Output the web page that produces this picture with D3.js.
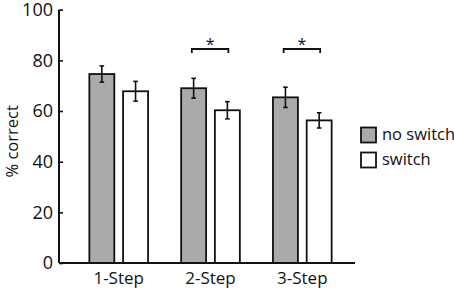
<!DOCTYPE html>
<html>
<head>
<meta charset="utf-8">
<script src="https://cdn.jsdelivr.net/npm/d3@7"></script>
<style>
  html, body { margin: 0; padding: 0; background: #fff; }
  svg { display: block; }
  text { font-family: "Open Sans", "Liberation Sans", sans-serif; fill: #111; }
</style>
</head>
<body>
<svg id="chart" width="454" height="292"></svg>
<script>
const categories = ["1-Step", "2-Step", "3-Step"];
const seriesNames = ["no switch", "switch"];
const noSwitch = [74.6, 69.0, 65.4];
const switchVals = [67.8, 60.3, 56.3];
const noSwitchErr = [3.2, 3.9, 4.0];
const switchErr = [3.9, 3.4, 3.0];
const significant = [false, true, true];
const yTicks = [0, 20, 40, 60, 80, 100];
const yLabel = "% correct";

const colors = ["#aaaaaa", "#ffffff"];

const svg = d3.select("#chart");
const axisX = 59, axisRight = 355;

const y = d3.scaleLinear().domain([0, 100]).range([263, 9.7]);
const x = d3.scaleBand().domain(categories).range([72.8, 348.2]).padding(0);
const xs = d3.scaleBand().domain(seriesNames).range([0, 58.7]).paddingInner(0.26).paddingOuter(0);

const groupOffset = (x.bandwidth() - 58.7) / 2;

const data = categories.map((c, i) => ({
  cat: c,
  sig: significant[i],
  bars: [
    { s: seriesNames[0], v: noSwitch[i], e: noSwitchErr[i], color: colors[0] },
    { s: seriesNames[1], v: switchVals[i], e: switchErr[i], color: colors[1] }
  ]
}));

// bars
const groups = svg.selectAll("g.grp").data(data).join("g")
  .attr("class", "grp")
  .attr("transform", d => `translate(${x(d.cat) + groupOffset},0)`);

groups.selectAll("rect").data(d => d.bars).join("rect")
  .attr("x", d => xs(d.s))
  .attr("y", d => y(d.v))
  .attr("width", xs.bandwidth())
  .attr("height", d => y(0) - y(d.v))
  .attr("fill", d => d.color)
  .attr("stroke", "#111")
  .attr("stroke-width", 1.8);

// error bars
const eb = groups.selectAll("g.err").data(d => d.bars).join("g").attr("class", "err");
eb.append("line")
  .attr("x1", d => xs(d.s) + xs.bandwidth() / 2)
  .attr("x2", d => xs(d.s) + xs.bandwidth() / 2)
  .attr("y1", d => y(d.v + d.e))
  .attr("y2", d => y(d.v - d.e))
  .attr("stroke", "#111").attr("stroke-width", 1.6);
eb.selectAll("line.cap").data(d => [
    { x: xs(d.s) + xs.bandwidth() / 2, v: d.v + d.e },
    { x: xs(d.s) + xs.bandwidth() / 2, v: d.v - d.e }
  ]).join("line").attr("class", "cap")
  .attr("x1", d => d.x - 2.3).attr("x2", d => d.x + 2.3)
  .attr("y1", d => y(d.v)).attr("y2", d => y(d.v))
  .attr("stroke", "#111").attr("stroke-width", 1.6);

// significance brackets
const sigG = groups.filter(d => d.sig);
sigG.each(function(d) {
  const g = d3.select(this);
  const x1 = xs(seriesNames[0]) + xs.bandwidth() / 2 - 1.8;
  const x2 = xs(seriesNames[1]) + xs.bandwidth() / 2 + 1;
  const yTop = 49, yBot = 53;
  g.append("path")
    .attr("d", `M${x1},${yBot}V${yTop}H${x2}V${yBot}`)
    .attr("fill", "none").attr("stroke", "#111").attr("stroke-width", 1.8);
  g.append("text")
    .attr("x", (x1 + x2) / 2)
    .attr("y", 50)
    .attr("text-anchor", "middle")
    .attr("font-size", 16)
    .text("*");
});

// y axis
const yAxis = d3.axisLeft(y).tickValues(yTicks).tickSize(-4).tickPadding(6);
const yg = svg.append("g").attr("transform", `translate(${axisX},0)`).call(yAxis);
yg.select(".domain").attr("stroke", "#111").attr("stroke-width", 2)
  .attr("d", `M0,${y(100)}V${y(0)}`);
yg.selectAll(".tick line").attr("stroke", "#111").attr("stroke-width", 1.6);
yg.selectAll(".tick text").attr("font-size", 18)
  .attr("font-family", "'Open Sans', sans-serif").attr("fill", "#111");

// x axis
const xAxis = d3.axisBottom(x).tickSize(0).tickPadding(9);
const xg = svg.append("g").attr("transform", `translate(0,${y(0)})`).call(xAxis);
xg.select(".domain").remove();
xg.selectAll(".tick text").attr("font-size", 17)
  .attr("font-family", "'Open Sans', sans-serif").attr("fill", "#111");
svg.append("line")
  .attr("x1", axisX).attr("x2", axisRight)
  .attr("y1", y(0)).attr("y2", y(0))
  .attr("stroke", "#111").attr("stroke-width", 2);

// y label
svg.append("text")
  .attr("transform", `translate(18,${(y(0) + y(100)) / 2 + 5}) rotate(-90)`)
  .attr("text-anchor", "middle")
  .attr("font-size", 16.5)
  .text(yLabel);

// legend
const leg = svg.append("g").attr("transform", "translate(360,127)");
const li = leg.selectAll("g").data(seriesNames).join("g")
  .attr("transform", (d, i) => `translate(0,${i * 25})`);
li.append("rect").attr("x", 1).attr("y", 0.5).attr("width", 15).attr("height", 15)
  .attr("fill", (d, i) => colors[i]).attr("stroke", "#111").attr("stroke-width", 1.8);
li.append("text").attr("x", 22).attr("y", 12.5).attr("font-size", 16.5).text(d => d);
</script>
</body>
</html>
